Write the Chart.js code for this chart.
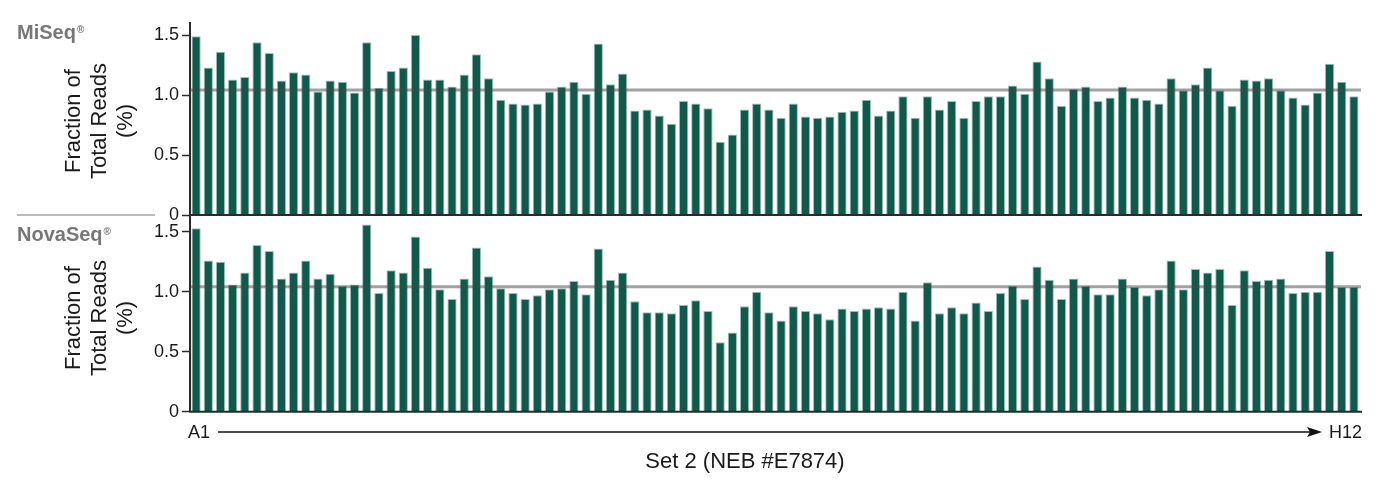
<!DOCTYPE html>
<html><head><meta charset="utf-8">
<script src="https://cdn.jsdelivr.net/npm/chart.js@4/dist/chart.umd.min.js"></script>
<style>
html,body{margin:0;padding:0;background:#fff;}
#wrap{position:relative;width:1384px;height:490px;overflow:hidden;font-family:"Liberation Sans",Arial,Helvetica,sans-serif;color:#1a1a1a;}
canvas{position:absolute;left:0;}
.lbl{position:absolute;white-space:nowrap;}
.inst{font-weight:bold;font-size:20px;line-height:20px;color:#777;left:17px;}
.inst sup{font-size:10px;vertical-align:top;position:relative;top:-2px;margin-left:1px;}
.ytitle{width:200px;height:78px;font-size:22px;line-height:26px;text-align:center;transform:rotate(-90deg);}
</style></head><body>
<div id="wrap">
<canvas id="c1" width="1384" height="225" style="top:0;width:1384px;height:225px"></canvas>
<canvas id="c2" width="1384" height="225" style="top:205px;width:1384px;height:225px"></canvas>
<div class="lbl inst" style="top:22px">MiSeq<sup>®</sup></div>
<div class="lbl inst" style="top:224px">NovaSeq<sup>®</sup></div>
<div style="position:absolute;left:17px;top:214px;width:138px;height:2px;background:#bbb"></div>
<div class="lbl ytitle" style="left:-1px;top:82px">Fraction of<br>Total Reads<br>(%)</div>
<div class="lbl ytitle" style="left:-1px;top:279px">Fraction of<br>Total Reads<br>(%)</div>
<svg style="position:absolute;left:0;top:0" width="1384" height="490">
  <line x1="218" y1="432" x2="1312" y2="432" stroke="#111" stroke-width="1.5"/>
  <polygon points="1322,432 1307,427 1310,432 1307,437" fill="#111"/>
</svg>
<div class="lbl" style="left:188px;top:423px;font-size:18px;line-height:18px">A1</div>
<div class="lbl" style="left:1329px;top:423px;font-size:18px;line-height:18px">H12</div>
<div class="lbl" style="left:545px;width:400px;text-align:center;top:449px;font-size:22px;line-height:24px">Set 2 (NEB #E7874)</div>
</div>
<script>
const rows = ['A','B','C','D','E','F','G','H'];
const cols = [1,2,3,4,5,6,7,8,9,10,11,12];
const wells = [];
cols.forEach(c => rows.forEach(r => wells.push(r + c)));

const miseq = [1.49,1.23,1.36,1.13,1.15,1.44,1.35,1.12,1.19,1.17,1.03,1.12,1.11,1.02,1.44,1.06,1.20,1.23,1.50,1.13,1.13,1.07,
1.17,1.34,1.14,0.96,0.93,0.92,0.93,1.03,1.07,1.11,1.01,1.43,1.09,1.18,0.87,0.88,0.83,0.76,0.95,0.93,0.89,0.61,0.67,0.88,0.93,
0.88,0.81,0.93,0.82,0.81,0.82,0.86,0.87,0.96,0.83,0.87,0.99,0.81,0.99,0.88,0.95,0.81,0.95,0.99,0.99,1.08,1.01,1.28,1.14,0.91,
1.05,1.07,0.95,0.98,1.07,0.98,0.96,0.93,1.14,1.04,1.09,1.23,1.04,0.91,1.13,1.12,1.14,1.04,0.98,0.92,1.02,1.26,1.11,0.99];

const novaseq = [1.53,1.26,1.25,1.06,1.16,1.39,1.34,1.11,1.16,1.26,1.11,1.15,1.05,1.06,1.56,0.99,1.18,1.16,1.46,1.20,1.02,0.94,
1.11,1.37,1.13,1.03,0.99,0.94,0.97,1.02,1.03,1.09,0.98,1.36,1.10,1.16,0.92,0.83,0.83,0.82,0.89,0.93,0.84,0.58,0.66,0.88,1.00,
0.83,0.76,0.88,0.84,0.82,0.77,0.86,0.84,0.86,0.87,0.86,1.00,0.76,1.08,0.82,0.87,0.82,0.91,0.84,0.99,1.05,0.94,1.21,1.10,0.94,
1.11,1.05,0.98,0.98,1.11,1.04,0.97,1.02,1.26,1.02,1.19,1.16,1.19,0.89,1.18,1.09,1.10,1.11,0.99,1.00,1.00,1.34,1.04,1.04];

const expectedLevel = 1.042;
const yTicks = [0, 0.5, 1.0, 1.5];

const FONT = '"Liberation Sans", Arial, Helvetica, sans-serif';

const linesPlugin = {
  id: 'lines',
  afterDatasetsDraw(chart, args, opts) {
    const {ctx, chartArea: a, scales: {y}} = chart;
    ctx.save();
    const yr = y.getPixelForValue(opts.ref);
    ctx.strokeStyle = 'rgba(70,70,70,0.5)';
    ctx.lineWidth = 3;
    ctx.beginPath(); ctx.moveTo(a.left + 1, yr); ctx.lineTo(a.right + 1, yr); ctx.stroke();
    const y0 = y.getPixelForValue(0);
    ctx.strokeStyle = '#2a2a2a';
    ctx.lineWidth = 2;
    ctx.beginPath(); ctx.moveTo(a.left - 1, y0); ctx.lineTo(a.right + 2, y0); ctx.stroke();
    ctx.restore();
  }
};

function makeChart(id, values, maxY, pad) {
  return new Chart(document.getElementById(id), {
    type: 'bar',
    data: {
      labels: wells,
      datasets: [{
        data: values,
        backgroundColor: '#115a4b',
        borderColor: '#9cc2b6',
        borderWidth: 1,
        borderSkipped: 'start',
        barPercentage: 0.76,
        categoryPercentage: 1.0
      }]
    },
    options: {
      responsive: false,
      animation: false,
      events: [],
      layout: { padding: pad },
      plugins: { legend: { display: false }, tooltip: { enabled: false }, lines: { ref: expectedLevel } },
      scales: {
        x: { display: false },
        y: {
          min: 0, max: maxY,
          afterFit(s) { s.width = 190; s.paddingTop = 0; s.paddingBottom = 0; },
          afterBuildTicks(s) { s.ticks = yTicks.map(v => ({ value: v })); },
          ticks: {
            callback: v => v === 0 ? '0' : v.toFixed(1),
            font: { size: 18, family: FONT },
            color: '#1a1a1a',
            padding: 3
          },
          grid: { drawOnChartArea: false, drawTicks: true, tickLength: 8, tickColor: '#2a2a2a', tickWidth: 1.5 },
          border: { display: true, color: '#2a2a2a', width: 2 }
        }
      }
    },
    plugins: [linesPlugin]
  });
}

// chart 1: plot area from page y 23 to 215 ; chart 2: from page y 215 to 411.7
makeChart('c1', miseq, 1.6, { left: 0, right: 24, top: 23, bottom: 10 });
makeChart('c2', novaseq, 1.64, { left: 0, right: 24, top: 10, bottom: 18.3 });
</script>
</body></html>
